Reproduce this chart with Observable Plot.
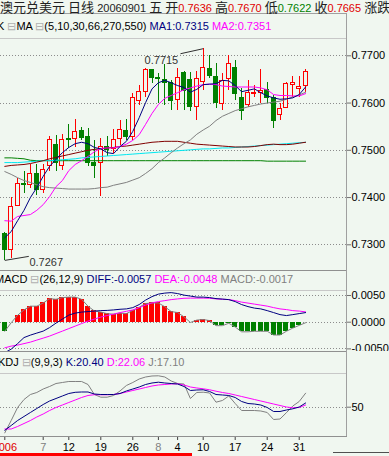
<!DOCTYPE html>
<html>
<head>
<meta charset="utf-8">
<script src="https://cdn.jsdelivr.net/npm/d3@7"></script>
<script src="https://cdn.jsdelivr.net/npm/@observablehq/plot@0.6"></script>
<style>
html,body{margin:0;padding:0;background:#f0f7f0;}
#root{position:relative;width:389px;height:456px;background:#f0f7f0;overflow:hidden;font-family:"Liberation Sans","Noto Sans CJK SC",sans-serif;}
.t{position:absolute;white-space:nowrap;font-size:11px;line-height:13px;color:#000;}
.c{font-size:13px;font-family:"Noto Sans CJK SC",sans-serif;}
.bx{color:#b0b0b0;}
.ln{position:absolute;}
.panel{position:absolute;left:0;}
.panel svg{display:block;}
</style>
</head>
<body>
<div id="root">
  <div id="pMain" class="panel" style="top:13px"></div>
  <div id="pMacd" class="panel" style="top:270px"></div>
  <div id="pKdj" class="panel" style="top:351px"></div>

  <div class="ln" style="left:0;top:13px;width:347px;height:1px;background:#a0a0a0"></div>
  <div class="ln" style="left:346px;top:13px;width:1px;height:424px;background:#a0a0a0"></div>
  <div class="ln" style="left:0;top:38px;width:346px;height:1px;background:#c8c8c8"></div>
  <div class="ln" style="left:0;top:270px;width:346px;height:1px;background:#909090"></div>
  <div class="ln" style="left:0;top:290px;width:346px;height:1px;background:#c8c8c8"></div>
  <div class="ln" style="left:0;top:351px;width:346px;height:1px;background:#909090"></div>
  <div class="ln" style="left:0;top:373px;width:346px;height:1px;background:#c8c8c8"></div>
  <div class="ln" style="left:0;top:436px;width:347px;height:1px;background:#909090"></div>
  <div class="ln" style="left:0;top:453px;width:192px;height:3px;background:#ff0000"></div>
  <div class="ln" style="left:333px;top:452px;width:56px;height:1px;background:#505050"></div>

  <div class="t" style="left:0;top:0;line-height:13px;color:#222"><span class="c">澳元兑美元</span> <span class="c">日线</span> 20060901 <span class="c">五</span> <span class="c">开</span><span style="color:#e00000">0.7636</span> <span class="c">高</span><span style="color:#e00000">0.7670</span> <span class="c">低</span><span style="color:#008000">0.7622</span> <span class="c">收</span><span style="color:#e00000">0.7665</span> <span class="c">涨跌</span></div>
  <div class="t" style="left:-3px;top:20px">K <span class="bx">⊟</span>MA <span class="bx">⊟</span>(5,10,30,66,270,550) <span style="color:#000080">MA1:0.7315</span> <span style="color:#ff00ff">MA2:0.7351</span></div>
  <div class="t" style="left:-5px;top:272.5px">MACD <span class="bx">⊟</span>(26,12,9) <span style="color:#000080">DIFF:-0.0057</span> <span style="color:#ff00ff">DEA:-0.0048</span> <span style="color:#808080">MACD:-0.0017</span></div>
  <div class="t" style="left:-2px;top:356px">KDJ <span class="bx">⊟</span>(9,9,3) <span style="color:#000080">K:20.40</span> <span style="color:#ff00ff">D:22.06</span> <span style="color:#808080">J:17.10</span></div>
</div>
<script>
// ---- candles (daily AUD/USD, 48 sessions ending 2006-09-01) ----
const open  = [0.7322,0.7290,0.7383,0.7429,0.7427,0.7449,0.7415,0.7466,0.7512,0.7466,0.7523,0.7524,0.7540,0.7529,0.7474,0.7474,0.7508,0.7503,0.7523,0.7540,0.7528,0.7605,0.7623,0.7670,0.7652,0.7649,0.7642,0.7607,0.7664,0.7649,0.7591,0.7644,0.7673,0.7656,0.7598,0.7651,0.7675,0.7611,0.7595,0.7619,0.7621,0.7627,0.7611,0.7574,0.7590,0.7639,0.7629,0.7636];
const high  = [0.7327,0.7400,0.7440,0.7455,0.7471,0.7470,0.7470,0.7529,0.7531,0.7534,0.7555,0.7565,0.7548,0.7546,0.7521,0.7525,0.7529,0.7544,0.7563,0.7565,0.7620,0.7637,0.7674,0.7672,0.7663,0.7682,0.7648,0.7673,0.7667,0.7665,0.7667,0.7715,0.7701,0.7683,0.7662,0.7701,0.7690,0.7631,0.7648,0.7637,0.7670,0.7644,0.7616,0.7598,0.7644,0.7656,0.7656,0.7670];
const low   = [0.7267,0.7270,0.7381,0.7409,0.7419,0.7404,0.7409,0.7455,0.7455,0.7457,0.7504,0.7506,0.7521,0.7466,0.7440,0.7402,0.7487,0.7493,0.7510,0.7521,0.7521,0.7595,0.7612,0.7641,0.7599,0.7595,0.7584,0.7584,0.7584,0.7582,0.7563,0.7627,0.7652,0.7589,0.7584,0.7627,0.7605,0.7563,0.7591,0.7612,0.7598,0.7599,0.7546,0.7563,0.7588,0.7612,0.7612,0.7622];
const close = [0.7288,0.7381,0.7429,0.7427,0.7449,0.7415,0.7459,0.7521,0.7473,0.7521,0.7521,0.7538,0.7527,0.7474,0.7466,0.7506,0.7501,0.7521,0.7542,0.7528,0.7611,0.7623,0.7669,0.7653,0.7651,0.7642,0.7605,0.7653,0.7626,0.7592,0.7651,0.7675,0.7658,0.7600,0.7647,0.7683,0.7620,0.7583,0.7622,0.7622,0.7625,0.7611,0.7563,0.7588,0.7641,0.7642,0.7633,0.7665];

// ---- moving averages (5,10,30,66,270,550) ----
const ma5   = [0.7315,0.7328,0.7351,0.7373,0.7400,0.7421,0.7445,0.7466,0.7481,0.7495,0.7506,0.7514,0.7517,0.7514,0.7506,0.7503,0.7495,0.7493,0.7508,0.7519,0.7540,0.7569,0.7601,0.7630,0.7643,0.7648,0.7643,0.7637,0.7633,0.7623,0.7629,0.7639,0.7640,0.7641,0.7648,0.7647,0.7637,0.7624,0.7627,0.7630,0.7622,0.7615,0.7611,0.7608,0.7609,0.7611,0.7618,0.7634];
const ma10  = [0.7351,0.7350,0.7360,0.7362,0.7364,0.7373,0.7385,0.7402,0.7423,0.7436,0.7457,0.7470,0.7478,0.7487,0.7497,0.7504,0.7505,0.7505,0.7508,0.7513,0.7521,0.7533,0.7555,0.7578,0.7597,0.7610,0.7616,0.7622,0.7628,0.7632,0.7636,0.7639,0.7640,0.7639,0.7636,0.7635,0.7634,0.7634,0.7634,0.7634,0.7632,0.7628,0.7618,0.7616,0.7616,0.7615,0.7615,0.7620];
const ma30  = [0.7455,0.7449,0.7442,0.7436,0.7432,0.7427,0.7423,0.7421,0.7420,0.7419,0.7418,0.7418,0.7418,0.7418,0.7419,0.7421,0.7422,0.7426,0.7429,0.7432,0.7437,0.7442,0.7451,0.7461,0.7474,0.7484,0.7495,0.7505,0.7514,0.7522,0.7534,0.7543,0.7551,0.7563,0.7572,0.7578,0.7584,0.7588,0.7592,0.7595,0.7598,0.7600,0.7602,0.7604,0.7608,0.7613,0.7617,0.7623];
const ma66  = [0.7466,0.7468,0.7469,0.7470,0.7472,0.7475,0.7478,0.7482,0.7485,0.7488,0.7491,0.7494,0.7497,0.7500,0.7502,0.7503,0.7505,0.7506,0.7508,0.7509,0.7511,0.7513,0.7515,0.7517,0.7518,0.7519,0.7519,0.7519,0.7517,0.7515,0.7513,0.7512,0.7511,0.7510,0.7509,0.7508,0.7507,0.7507,0.7507,0.7508,0.7510,0.7512,0.7513,0.7512,0.7512,0.7513,0.7515,0.7517];
const ma270 = [0.7474,0.7474,0.7474,0.7475,0.7476,0.7477,0.7478,0.7478,0.7479,0.7480,0.7481,0.7482,0.7484,0.7485,0.7486,0.7487,0.7488,0.7489,0.7490,0.7491,0.7492,0.7493,0.7494,0.7495,0.7496,0.7497,0.7498,0.7499,0.7500,0.7501,0.7502,0.7503,0.7503,0.7504,0.7505,0.7505,0.7506,0.7507,0.7508,0.7509,0.7510,0.7511,0.7512,0.7513,0.7514,0.7515,0.7516,0.7517];
const ma550 = [0.7484,0.7484,0.7483,0.7482,0.7479,0.7478,0.7478,0.7478,0.7478,0.7478,0.7478,0.7478,0.7478,0.7478,0.7478,0.7478,0.7478,0.7478,0.7478,0.7478,0.7478,0.7478,0.7478,0.7478,0.7478,0.7478,0.7478,0.7478,0.7478,0.7478,0.7478,0.7478,0.7478,0.7478,0.7478,0.7478,0.7478,0.7478,0.7478,0.7478,0.7478,0.7477,0.7477,0.7477,0.7477,0.7477,0.7477,0.7477];

// ---- MACD (26,12,9) ----
const diff = [-0.0057,-0.00504,-0.00401,-0.00288,-0.00242,-0.00204,-0.00167,-0.00101,-0.00017,0.00058,0.00133,0.00170,0.00189,0.00199,0.00208,0.00217,0.00221,0.00230,0.00242,0.00249,0.00273,0.00330,0.00414,0.00479,0.00526,0.00545,0.00554,0.00536,0.00507,0.00489,0.00470,0.00470,0.00461,0.00442,0.00433,0.00423,0.00386,0.00330,0.00292,0.00264,0.00249,0.00217,0.00180,0.00142,0.00124,0.00142,0.00161,0.00180];
const dea  = [-0.0048,-0.00448,-0.00429,-0.00401,-0.00373,-0.00335,-0.00298,-0.00260,-0.00213,-0.00167,-0.00120,-0.00073,-0.00026,0.00021,0.00058,0.00096,0.00124,0.00152,0.00180,0.00204,0.00230,0.00273,0.00320,0.00361,0.00386,0.00404,0.00423,0.00436,0.00448,0.00451,0.00451,0.00451,0.00448,0.00436,0.00429,0.00423,0.00404,0.00376,0.00358,0.00339,0.00320,0.00301,0.00273,0.00249,0.00236,0.00217,0.00208,0.00193];
const macd = [-0.0017,-0.0001,0.0013,0.0023,0.0030,0.0030,0.0036,0.0044,0.0043,0.0046,0.0047,0.0047,0.0043,0.0030,0.0021,0.0019,0.0016,0.0015,0.0017,0.0016,0.0022,0.0028,0.0035,0.0036,0.0036,0.0029,0.0020,0.0018,0.0010,-0.00005,0.0004,0.0005,0.0003,-0.00065,-0.00065,-0.0002,-0.0009,-0.0018,-0.0018,-0.0017,-0.0017,-0.0017,-0.0024,-0.0024,-0.0017,-0.0011,-0.0006,-0.0001];

// ---- KDJ (9,9,3) ----
const kdjK = [20.40,26.54,32.95,38.08,43.21,48.33,53.46,57.95,61.15,64.36,67.56,69.10,69.49,69.49,66.92,66.28,66.28,66.28,67.56,70.77,73.33,75.90,79.10,81.03,82.05,81.03,80.38,79.74,76.54,71.41,72.05,72.31,70.13,66.28,65.64,65.00,62.44,57.31,54.74,54.10,52.82,49.62,44.49,44.49,46.41,47.95,50.26,55.38];
const kdjD = [22.06,22.05,25.26,29.10,32.95,37.44,41.28,45.77,49.62,52.82,56.03,59.23,62.44,65.00,66.03,65.90,65.90,66.28,67.56,69.49,71.41,73.33,75.26,77.18,78.46,79.10,79.74,80.00,78.46,75.90,74.62,73.59,72.31,70.51,68.85,67.56,65.64,63.72,61.79,59.87,57.95,56.03,54.10,52.18,50.26,49.23,49.62,52.82];
const kdjJ = [17.10,32.95,49.62,59.87,66.28,68.85,73.33,76.54,80.38,81.67,82.95,82.95,82.95,79.10,66.28,62.82,62.82,65.00,70.77,77.82,81.67,86.15,88.72,90.00,90.26,88.72,83.59,80.38,79.74,61.15,68.85,69.23,68.21,56.41,58.59,64.36,54.74,45.77,45.77,45.77,45.13,43.21,34.23,34.87,42.95,51.54,57.31,67.95];

// ---- axis ticks ----
const priceTicks = [0.73, 0.74, 0.75, 0.76, 0.77];
const macdTicks = [-0.005, 0, 0.005];
const kdjTicks = [50];
const dateTickIdx   = [0, 6, 10, 15, 20, 24, 27, 31, 36, 41, 46];
const dateTickLabel = ["2006", "7", "12", "19", "26", "8", "4", "10", "17", "24", "31"];
const dateTickKind  = ["year", "month", "day", "day", "day", "month", "day", "day", "day", "day", "day"];

// ---- styling ----
const BG = "#f0f7f0", RED = "#ff0000", GREEN = "#008000", NAVY = "#000080", MAG = "#ff00ff",
      GRAY = "#808080", MAROON = "#800000", CYAN = "#00e8f0", DOT = "#8c8c8c";
const W = 389, MR = 43;
const xDomain = [-0.672, 53.39];
const FONT = "Liberation Sans, Noto Sans CJK SC, sans-serif";
const baseStyle = {background: "transparent", fontFamily: FONT, fontSize: "11px", color: "#000"};
const fmt4 = d => d.toFixed(4);

const candles = open.map((o, i) => ({i, o, h: high[i], l: low[i], c: close[i], up: close[i] >= open[i]}));
const series = arr => arr.map((v, i) => ({i, v}));
const ln = (arr, stroke) => Plot.line(series(arr), {x: "i", y: "v", stroke, strokeWidth: 1});

const hiI = d3.maxIndex(high), loI = d3.minIndex(low);

const main = Plot.plot({
  width: W, height: 257, marginLeft: 0, marginRight: MR, marginTop: 25, marginBottom: 0,
  style: {...baseStyle, overflow: "visible"},
  x: {domain: xDomain, axis: null},
  y: {domain: [0.724561, 0.773662], axis: null},
  marks: [
    Plot.ruleY(priceTicks, {stroke: DOT, strokeDasharray: "1,2", shapeRendering: "crispEdges"}),
    Plot.axisY(priceTicks, {anchor: "right", label: null, tickSize: 4, tickPadding: 1, tickFormat: fmt4, fontSize: 11, fill: "#000", stroke: "#707070"}),
    Plot.ruleX(candles, {x: "i", y1: "l", y2: "h", stroke: d => d.up ? RED : GREEN, shapeRendering: "crispEdges"}),
    Plot.rect(candles, {x1: d => d.i - 0.31, x2: d => d.i + 0.31, y1: "o", y2: "c",
      fill: d => d.up ? BG : GREEN, stroke: d => d.up ? RED : GREEN, shapeRendering: "crispEdges"}),
    ln(ma550, GREEN), ln(ma270, CYAN), ln(ma66, MAROON), ln(ma30, GRAY), ln(ma10, MAG), ln(ma5, NAVY),
    // high / low annotations
    Plot.link([hiI], {x1: i => i, y1: i => high[i], x2: i => i - 3.55, y2: i => high[i] - 0.00106, stroke: "#303030"}),
    Plot.text([hiI], {x: i => i - 3.9, y: i => high[i] - 0.00254, text: i => high[i].toFixed(4), textAnchor: "end", fill: "#333", fontSize: 11}),
    Plot.link([loI], {x1: i => i, y1: i => low[i], x2: i => i + 3.75, y2: i => low[i] + 0.00085, stroke: "#303030"}),
    Plot.text([loI], {x: i => i + 3.85, y: i => low[i] - 0.00042, text: i => low[i].toFixed(4), textAnchor: "start", fill: "#333", fontSize: 11})
  ]
});
document.getElementById("pMain").appendChild(main);

const macdChart = Plot.plot({
  width: W, height: 81, marginLeft: 0, marginRight: MR, marginTop: 20, marginBottom: 0,
  style: {...baseStyle, overflow: "hidden"},
  x: {domain: xDomain, axis: null},
  y: {domain: [-0.005487, 0.005936], axis: null},
  marks: [
    Plot.ruleY(macdTicks, {stroke: DOT, strokeDasharray: "1,2", shapeRendering: "crispEdges"}),
    Plot.axisY(macdTicks, {anchor: "right", label: null, tickSize: 4, tickPadding: 1, tickFormat: fmt4, fontSize: 11, fill: "#000", stroke: "#707070"}),
    Plot.rect(series(macd), {x1: d => d.i - 0.39, x2: d => d.i + 0.39, y1: 0, y2: "v",
      fill: d => d.v >= 0 ? RED : GREEN, shapeRendering: "crispEdges"}),
    ln(macd, GRAY), ln(dea, MAG), ln(diff, NAVY)
  ]
});
document.getElementById("pMacd").appendChild(macdChart);

const tickSet = kind => dateTickIdx.filter((d, k) => dateTickKind[k] === kind);
const tickLab = i => dateTickLabel[dateTickIdx.indexOf(i)];
const kdjChart = Plot.plot({
  width: W, height: 105, marginLeft: 0, marginRight: MR, marginTop: 22, marginBottom: 20,
  style: {...baseStyle, overflow: "visible"},
  x: {domain: xDomain, axis: null},
  y: {domain: [12.44, 93.2], axis: null},
  marks: [
    Plot.ruleY(kdjTicks, {stroke: DOT, strokeDasharray: "1,2", shapeRendering: "crispEdges"}),
    Plot.axisY(kdjTicks, {anchor: "right", label: null, tickSize: 4, tickPadding: 1, tickFormat: d => String(d), fontSize: 11, fill: "#000", stroke: "#707070"}),
    Plot.axisX(tickSet("day"), {anchor: "bottom", label: null, tickSize: 4, tickPadding: 3, tickFormat: tickLab, fontSize: 11, fill: "#000", stroke: "#404040"}),
    Plot.axisX(tickSet("month"), {anchor: "bottom", label: null, tickSize: 4, tickPadding: 3, tickFormat: tickLab, fontSize: 11, fill: "#808080", stroke: "#404040"}),
    Plot.axisX(tickSet("year"), {anchor: "bottom", label: null, tickSize: 4, tickPadding: 3, tickFormat: tickLab, fontSize: 11, fill: "#e00000", stroke: "#404040"}),
    ln(kdjJ, GRAY), ln(kdjD, MAG), ln(kdjK, NAVY)
  ]
});
document.getElementById("pKdj").appendChild(kdjChart);
</script>
</body>
</html>
